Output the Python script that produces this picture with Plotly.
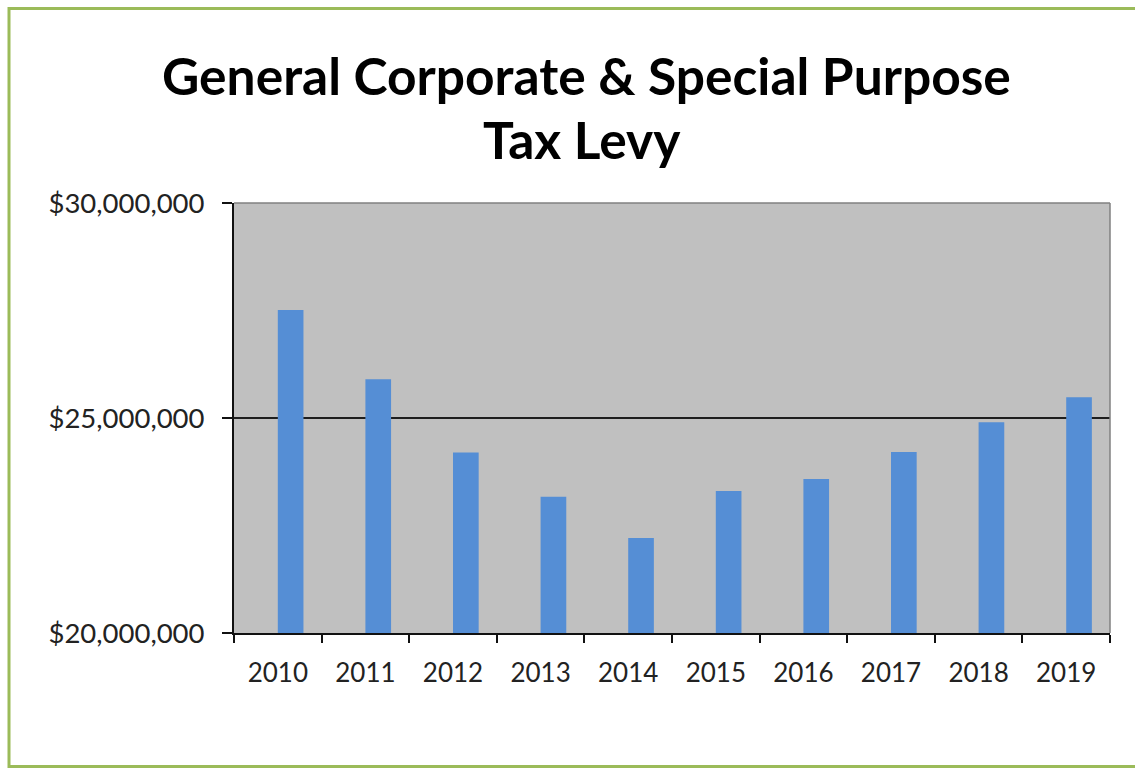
import plotly.graph_objects as go

years = ["2010", "2011", "2012", "2013", "2014", "2015", "2016", "2017", "2018", "2019"]
levy = [27.51e6, 25.90e6, 24.20e6, 23.17e6, 22.21e6, 23.30e6, 23.58e6, 24.21e6, 24.90e6, 25.48e6]
y_ticks = [20e6, 25e6, 30e6]
y_tick_labels = ["$20,000,000", "$25,000,000", "$30,000,000"]
title_lines = ["General Corporate & Special Purpose", "Tax Levy"]

W, H = 1135, 769
L, R, T, B = 234, 25, 203, 136
pw, ph = W - L - R, H - T - B


def px_x(x):
    return (x - L) / pw


def px_y(y):
    return (H - B - y) / ph


fig = go.Figure()
fig.add_trace(go.Bar(
    x=years, y=levy,
    marker=dict(color="#558ED5", line=dict(width=0)),
    width=0.293, offset=0,
    hoverinfo="x+y",
))

fig.update_layout(
    template="none",
    width=W, height=H,
    margin=dict(l=L, r=R, t=T, b=B, pad=0),
    paper_bgcolor="white",
    plot_bgcolor="#C0C0C0",
    showlegend=False,
    font=dict(family="Lato, 'Open Sans', sans-serif", color="#222222"),
    xaxis=dict(
        type="category", automargin=False,
        showgrid=False, zeroline=False,
        showline=True, linecolor="#111111", linewidth=2,
        ticks="outside", tickson="boundaries", ticklen=8, tickwidth=1.5, tickcolor="#111111",
        tickfont=dict(size=26, family="Lato, sans-serif", color="#222222"),
        ticklabelstandoff=16,
    ),
    yaxis=dict(
        range=[20e6, 30e6], automargin=False,
        tickvals=y_ticks, ticktext=y_tick_labels,
        showgrid=True, gridcolor="#1e1e1e", gridwidth=2,
        zeroline=False,
        showline=True, linecolor="#111111", linewidth=2,
        ticks="outside", ticklen=10, tickwidth=1.5, tickcolor="#111111",
        tickfont=dict(size=27.5, family="Lato, sans-serif", color="#222222"),
        ticklabelstandoff=12,
    ),
    shapes=[
        dict(type="rect", xref="paper", yref="paper",
             x0=px_x(9), x1=px_x(1140), y0=px_y(766.5), y1=px_y(8.5),
             line=dict(color="#9BBB59", width=3), fillcolor="rgba(0,0,0,0)", layer="above"),
        dict(type="line", xref="paper", yref="paper", x0=0, x1=1, y0=1, y1=1,
             line=dict(color="#808080", width=1.5), layer="above"),
        dict(type="line", xref="paper", yref="paper", x0=1, x1=1, y0=0, y1=1,
             line=dict(color="#808080", width=1.5), layer="above"),
    ],
    annotations=[
        dict(text="<b>%s</b>" % title_lines[0], xref="paper", yref="paper",
             x=px_x(586.5), y=px_y(75.4), xanchor="center", yanchor="middle",
             showarrow=False, font=dict(size=51.5, family="Lato, sans-serif", color="black")),
        dict(text="<b>%s</b>" % title_lines[1], xref="paper", yref="paper",
             x=px_x(581.5), y=px_y(138.8), xanchor="center", yanchor="middle",
             showarrow=False, font=dict(size=51.5, family="Lato, sans-serif", color="black")),
    ],
)

fig.write_html("out.html", include_plotlyjs=True, config={"displayModeBar": False})
